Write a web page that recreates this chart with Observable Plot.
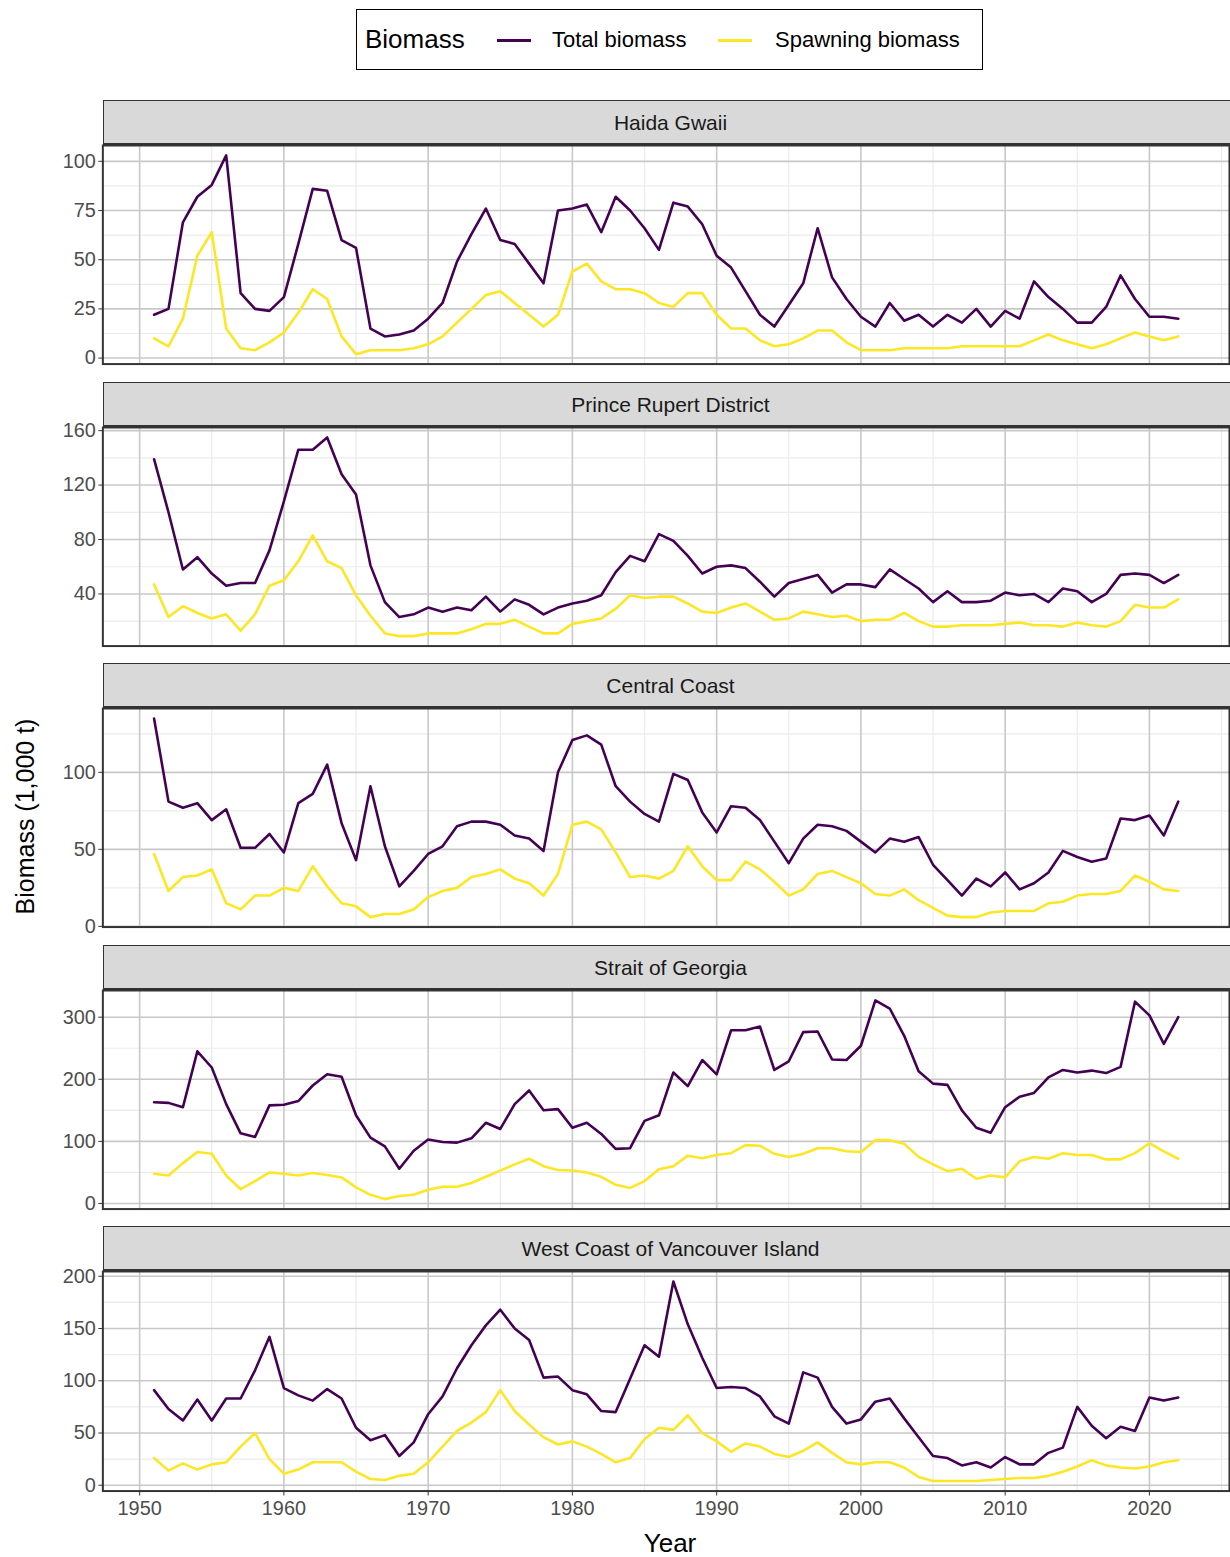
<!DOCTYPE html>
<html><head><meta charset="utf-8">
<script src="https://cdn.jsdelivr.net/npm/d3@7"></script>
<script src="https://cdn.jsdelivr.net/npm/@observablehq/plot@0.6"></script>
<style>
body{margin:0;width:1230px;height:1557px;overflow:hidden;background:#fff;font-family:"Liberation Sans",Arial,sans-serif;position:relative}
.abs{position:absolute}
.strip{position:absolute;left:103px;width:1135px;height:45px;background:#d9d9d9;border:1px solid #333;border-bottom:2px solid #333;box-sizing:border-box;text-align:center;font-size:21px;line-height:43px;color:#1a1a1a}
</style></head><body>
<script>
const years = d3.range(1951, 2023);
const panelNames = ["Haida Gwaii","Prince Rupert District","Central Coast","Strait of Georgia","West Coast of Vancouver Island"];
const hgTotal=[22,25,69,82,88,103,33,25,24,31,58,86,85,60,56,15,11,12,14,20,28,49,63,76,60,58,48,38,75,76,78,64,82,75,66,55,79,77,68,52,46,34,22,16,27,38,66,41,30,21,16,28,19,22,16,22,18,25,16,24,20,39,31,25,18,18,26,42,30,21,21,20];
const hgSpawn=[10,6,20,52,64,15,5,4,8,13,23,35,30,11,2,4,4,4,5,7,11,18,25,32,34,28,22,16,22,44,48,39,35,35,33,28,26,33,33,22,15,15,9,6,7,10,14,14,8,4,4,4,5,5,5,5,6,6,6,6,6,9,12,9,7,5,7,10,13,11,9,11];
const prTotal=[139,100,58,67,55,46,48,48,72,108,146,146,155,128,113,61,34,23,25,30,27,30,28,38,27,36,32,25,30,33,35,39,56,68,64,84,79,68,55,60,61,59,49,38,48,51,54,41,47,47,45,58,51,44,34,42,34,34,35,41,39,40,34,44,42,34,40,54,55,54,48,54];
const prSpawn=[47,23,31,26,22,25,13,25,46,50,64,83,64,59,39,24,11,9,9,11,11,11,14,18,18,21,16,11,11,18,20,22,29,39,37,38,38,33,27,26,30,33,27,21,22,27,25,23,24,20,21,21,26,20,16,16,17,17,17,18,19,17,17,16,19,17,16,20,32,30,30,36];
const ccTotal=[135,81,77,80,69,76,51,51,60,48,80,86,105,67,43,91,52,26,36,47,52,65,68,68,66,59,57,49,100,121,124,118,91,81,73,68,99,95,74,61,78,77,69,55,41,57,66,65,62,55,48,57,55,58,40,30,20,31,26,35,24,28,35,49,45,42,44,70,69,72,59,81];
const ccSpawn=[47,23,32,33,37,15,11,20,20,25,23,39,26,15,13,6,8,8,11,19,23,25,32,34,37,31,28,20,34,66,68,63,48,32,33,31,36,52,39,30,30,42,37,29,20,24,34,36,32,28,21,20,24,17,12,7,6,6,9,10,10,10,15,16,20,21,21,23,33,29,24,23];
const sogTotal=[163,162,155,245,219,160,113,107,158,159,165,190,208,204,142,106,92,56,85,103,99,98,105,130,120,160,182,150,152,122,130,112,88,89,133,142,211,189,231,208,279,279,285,215,229,276,277,232,231,254,327,314,270,213,193,191,150,122,114,155,172,178,203,215,211,214,210,220,325,303,257,300];
const sogSpawn=[48,45,65,83,80,45,23,36,50,48,45,49,46,42,26,14,7,12,14,22,27,27,33,43,53,63,72,60,54,53,50,43,30,25,36,55,60,77,73,78,81,94,93,80,75,80,89,89,84,83,102,102,96,75,63,52,56,40,45,42,68,75,72,81,78,78,71,71,81,97,84,72];
const wcviTotal=[91,73,62,82,62,83,83,110,142,93,86,81,92,83,55,43,48,28,41,68,85,112,134,153,168,150,139,103,104,91,87,71,70,102,134,123,195,154,122,93,94,93,85,66,59,108,103,75,59,63,80,83,64,46,28,26,19,22,17,27,20,20,31,36,75,57,45,56,52,84,81,84];
const wcviSpawn=[26,14,21,15,20,22,37,50,25,11,15,22,22,22,13,6,5,9,11,22,37,52,60,70,91,71,58,46,39,42,37,30,22,26,44,55,53,67,50,42,32,40,37,30,27,33,41,31,22,20,22,22,17,8,4,4,4,4,5,6,7,7,9,13,18,24,19,17,16,18,22,24];
const yTicks=[[0,25,50,75,100],[40,80,120,160],[0,50,100],[0,100,200,300],[0,50,100,150,200]];
const xTicks=[1950,1960,1970,1980,1990,2000,2010,2020];
const seriesNames=["Total biomass","Spawning biomass"];
const colors=["#440154","#FDE725"];
const totals=[hgTotal,prTotal,ccTotal,sogTotal,wcviTotal];
const spawns=[hgSpawn,prSpawn,ccSpawn,sogSpawn,wcviSpawn];

const body=document.body;
const leg=document.createElement("div");
leg.className="abs";
leg.style.cssText="left:356px;top:9px;width:627px;height:61px;border:1.5px solid #000;box-sizing:border-box";
leg.innerHTML=`<span class="abs" style="left:8px;top:14px;font-size:26px">Biomass</span>
<span class="abs" style="left:140px;top:29px;width:34px;height:2.5px;background:${colors[0]}"></span>
<span class="abs" style="left:195px;top:17px;font-size:22px">${seriesNames[0]}</span>
<span class="abs" style="left:361px;top:29px;width:34px;height:2.5px;background:${colors[1]}"></span>
<span class="abs" style="left:418px;top:17px;font-size:22px">${seriesNames[1]}</span>`;
body.appendChild(leg);

const xDomain=[1951-71*0.05,2022+71*0.05];
const period=281.5;
panelNames.forEach((name,i)=>{
  const top=100+i*period;
  const s=document.createElement("div");
  s.className="strip"; s.style.top=top+"px"; s.textContent=name;
  body.appendChild(s);
  const tot=totals[i], sp=spawns[i];
  const data=[];
  years.forEach((y,k)=>{data.push({year:y,value:tot[k],series:seriesNames[0]});data.push({year:y,value:sp[k],series:seriesNames[1]});});
  const all=tot.concat(sp);
  const mn=d3.min(all), mx=d3.max(all), pad=(mx-mn)*0.05;
  const yt=yTicks[i];
  const step=yt[1]-yt[0];
  const minorY=d3.range(yt[0]-step/2, mx+pad, step).filter(v=>v>mn-pad);
  const minorX=d3.range(1945,2030,10).filter(v=>v>xDomain[0]&&v<xDomain[1]);
  const last=i===4;
  const chart=Plot.plot({
    width:1238, height:221+(last?62:0),
    marginLeft:103, marginRight:1, marginTop:0, marginBottom:last?62:1,
    style:{fontFamily:"Liberation Sans, Arial, sans-serif",fontSize:"20px",color:"#4d4d4d",background:"transparent"},
    x:{domain:xDomain,axis:null},
    y:{domain:[mn-pad,mx+pad],axis:null},
    color:{domain:seriesNames,range:colors},
    marks:[
      Plot.ruleY(minorY,{stroke:"#ebebeb",strokeWidth:1.2,strokeOpacity:1}),
      Plot.ruleX(minorX,{stroke:"#ebebeb",strokeWidth:1.2,strokeOpacity:1}),
      Plot.ruleY(yt,{stroke:"#c8c8c8",strokeWidth:1.6,strokeOpacity:1}),
      Plot.ruleX(xTicks,{stroke:"#c8c8c8",strokeWidth:1.6,strokeOpacity:1}),
      Plot.line(data,{x:"year",y:"value",stroke:"series",strokeWidth:2.6}),
      Plot.frame({stroke:"#333",strokeWidth:2}),
      Plot.axisY(yt,{tickSize:4,tickPadding:3,fontSize:20,fill:"#4d4d4d",stroke:"#333",label:null}),
      last?Plot.axisX(xTicks,{tickSize:5,tickPadding:5,fontSize:20,fill:"#4d4d4d",stroke:"#333",label:null,tickFormat:d=>String(d)}):null
    ]
  });
  chart.style.position="absolute"; chart.style.left="0px"; chart.style.top=(top+45)+"px";
  chart.style.overflow="visible";
  body.appendChild(chart);
});
const yl=document.createElement("div");
yl.className="abs";
yl.style.cssText="left:-80px;top:802px;width:210px;text-align:center;font-size:25px;transform:rotate(-90deg);color:#000";
yl.textContent="Biomass (1,000 t)";
body.appendChild(yl);
const xl=document.createElement("div");
xl.className="abs";
xl.style.cssText="left:620px;top:1528px;width:100px;text-align:center;font-size:26px;color:#000";
xl.textContent="Year";
body.appendChild(xl);
</script>
</body></html>
